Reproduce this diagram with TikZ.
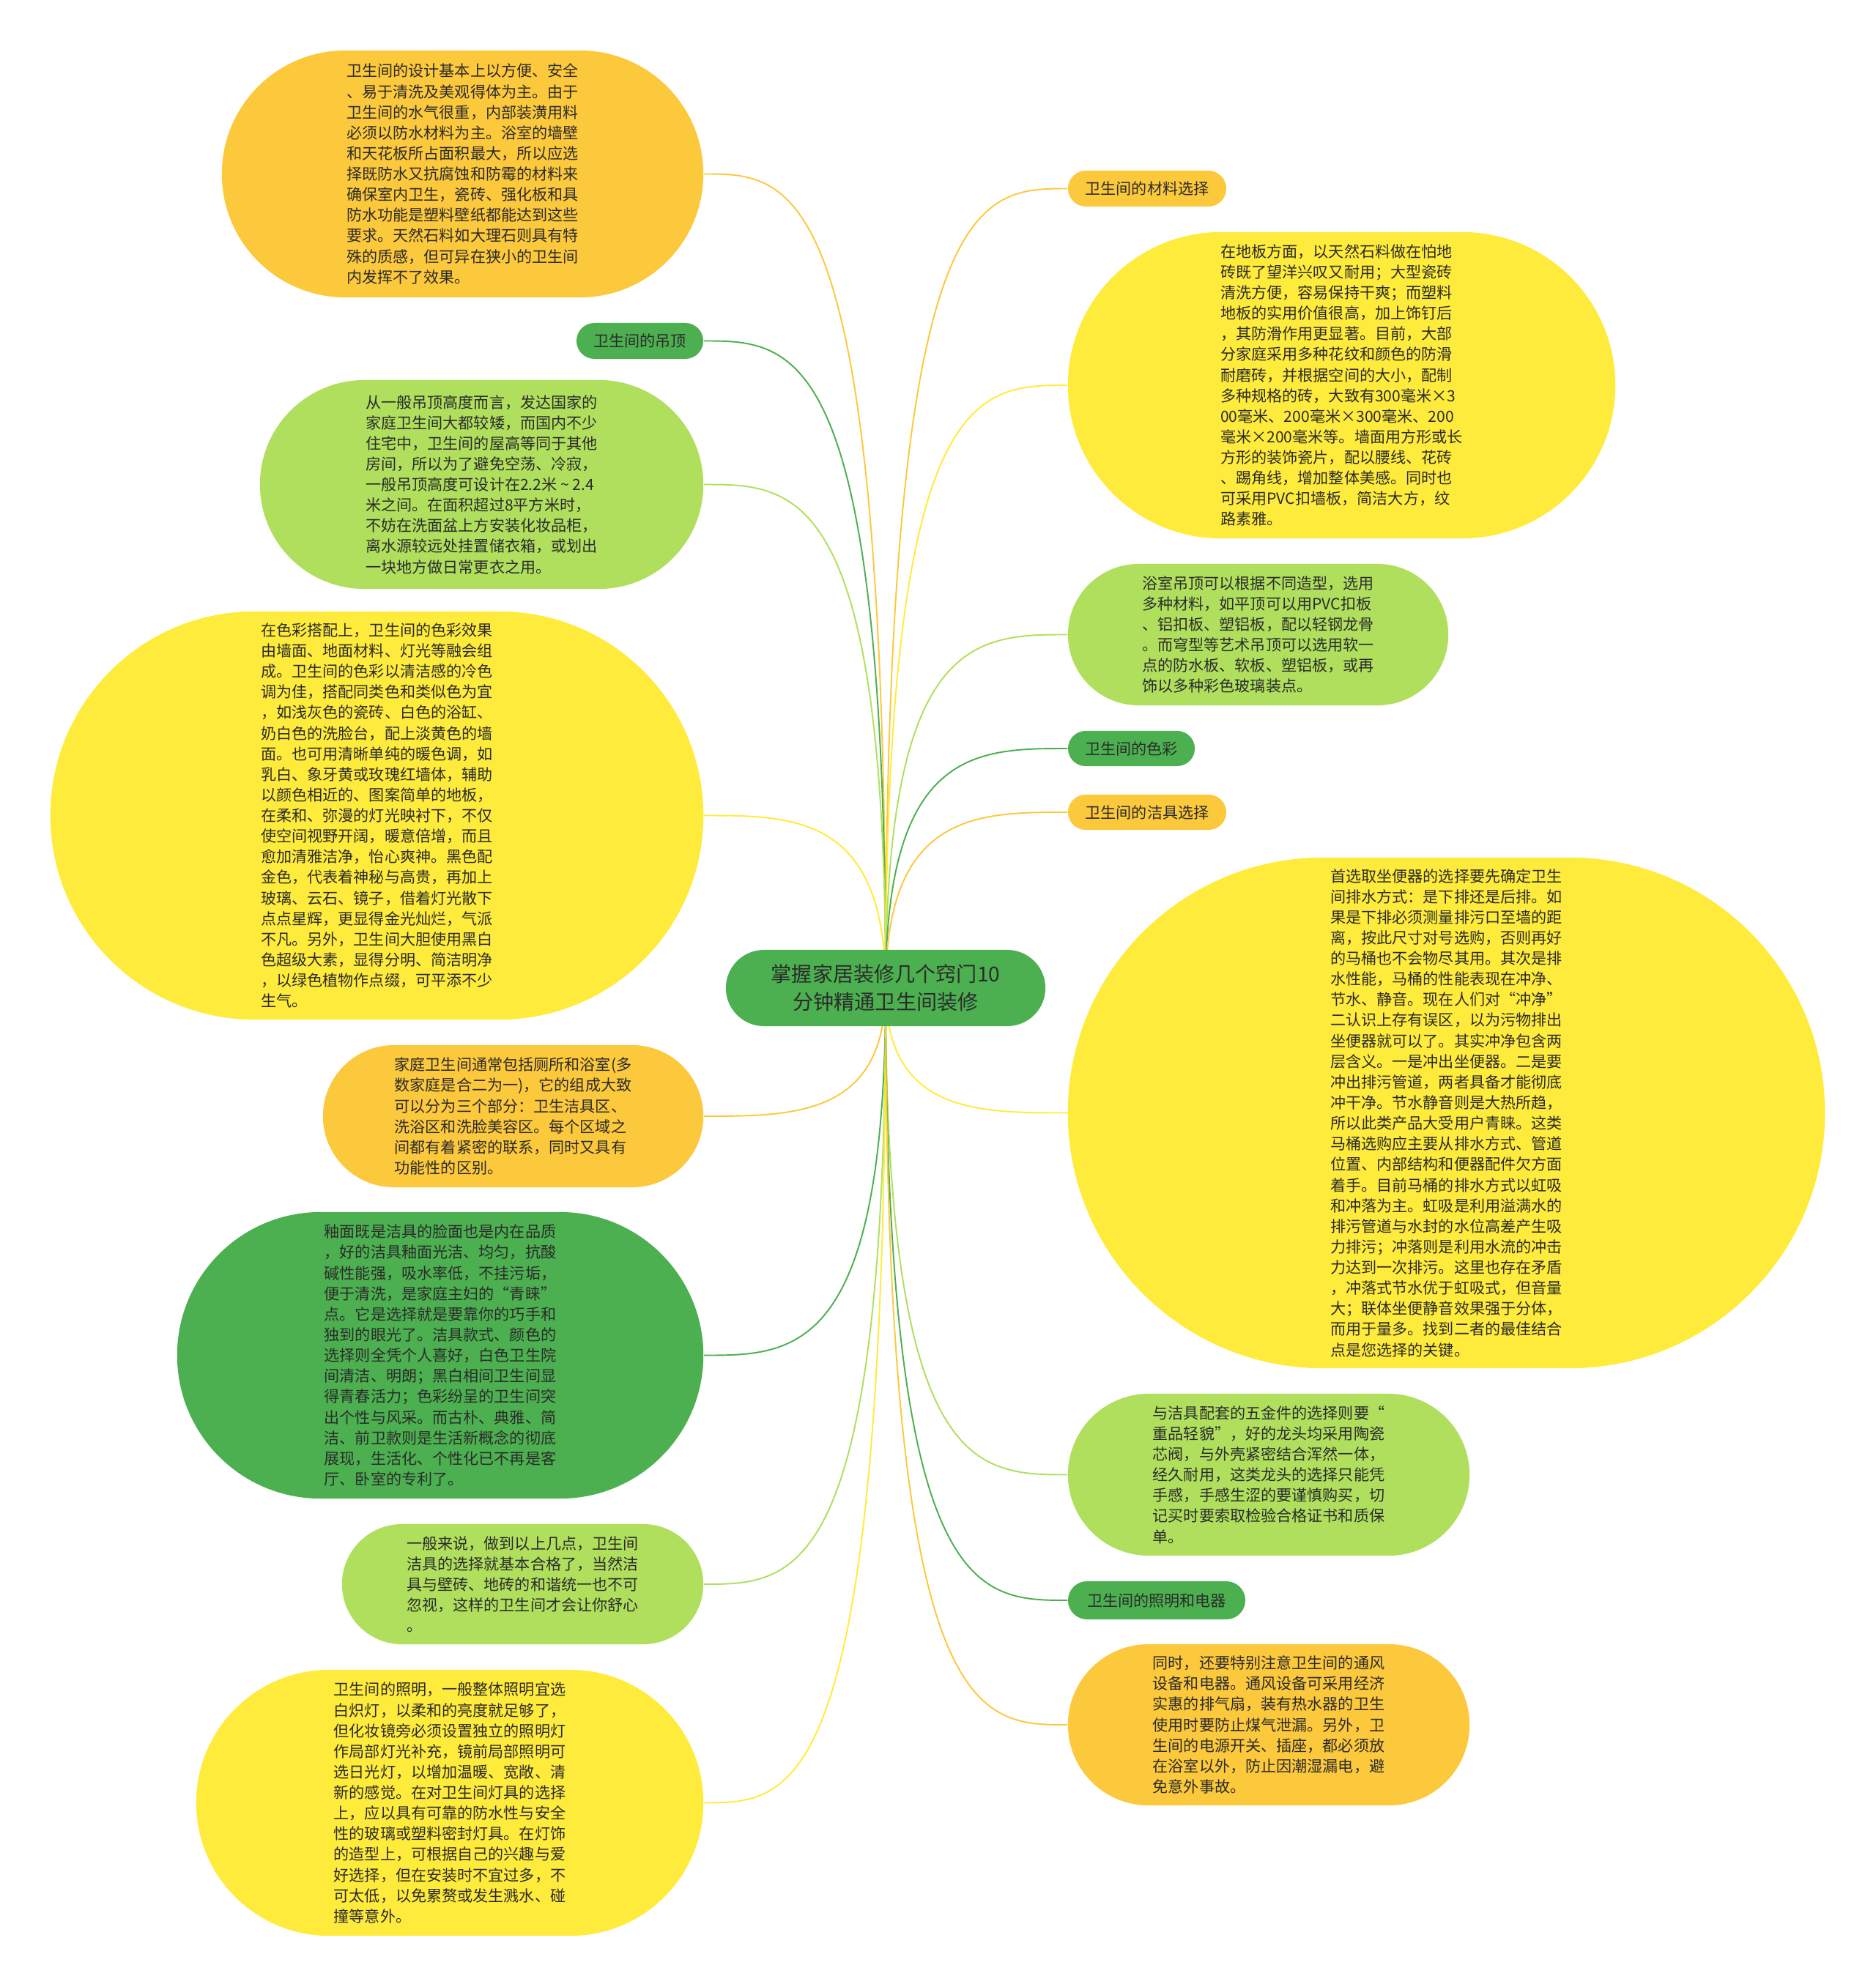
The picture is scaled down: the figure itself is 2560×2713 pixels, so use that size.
\documentclass[tikz,border=0pt]{standalone}
\usepackage{fontspec}
\newfontfamily\cjk{Noto Sans CJK SC}
\usetikzlibrary{calc}
\definecolor{mmorange}{HTML}{FCC83C}
\definecolor{mmyellow}{HTML}{FFEB3B}
\definecolor{mmlime}{HTML}{B0DF5E}
\definecolor{mmgreen}{HTML}{4CAF50}
\definecolor{ink}{HTML}{2B2B2B}
\pgfdeclarelayer{background}
\pgfsetlayers{background,main}

\begin{document}
\begin{tikzpicture}[
    x=0.01cm, y=-0.01cm,
    blob/.style={inner sep=0pt, align=left, text=ink,
                 font=\cjk\fontsize{6pt}{8pt}\selectfont},
    boxsize/.style 2 args={minimum width=#1cm, minimum height=#2cm,
                 rounded corners=#2*0.5cm},
    link/.style={line width=0.55pt}
  ]
  \useasboundingbox (0,0) rectangle (2560,2713);

  % centre topic
  \node[blob, boxsize={4.36}{1.04}, fill=mmgreen, align=center,
        font=\cjk\fontsize{8pt}{10.8pt}\selectfont] (hub) at (1209,1349)
    {掌握家居装修几个窍门10\\分钟精通卫生间装修};

  % left column
  \node[blob, boxsize={6.57}{3.37}, fill=mmorange] (wall) at (631.5,237.5)
    {卫生间的设计基本上以方便、安全\\
     、易于清洗及美观得体为主。由于\\
     卫生间的水气很重，内部装潢用料\\
     必须以防水材料为主。浴室的墙壁\\
     和天花板所占面积最大，所以应选\\
     择既防水又抗腐蚀和防霉的材料来\\
     确保室内卫生，瓷砖、强化板和具\\
     防水功能是塑料壁纸都能达到这些\\
     要求。天然石料如大理石则具有特\\
     殊的质感，但可异在狭小的卫生间\\
     内发挥不了效果。};
  \node[blob, boxsize={1.73}{0.49}, fill=mmgreen] (ceil) at (873.5,465.5)
    {卫生间的吊顶};
  \node[blob, boxsize={6.05}{2.85}, fill=mmlime] (height) at (657.5,661.5)
    {从一般吊顶高度而言，发达国家的\\
     家庭卫生间大都较矮，而国内不少\\
     住宅中，卫生间的屋高等同于其他\\
     房间，所以为了避免空荡、冷寂，\\
     一般吊顶高度可设计在2.2米 \textasciitilde{} 2.4\\
     米之间。在面积超过8平方米时，\\
     不妨在洗面盆上方安装化妆品柜，\\
     离水源较远处挂置储衣箱，或划出\\
     一块地方做日常更衣之用。};
  \node[blob, boxsize={8.91}{5.57}, fill=mmyellow] (tone) at (514.5,1113.5)
    {在色彩搭配上，卫生间的色彩效果\\
     由墙面、地面材料、灯光等融会组\\
     成。卫生间的色彩以清洁感的冷色\\
     调为佳，搭配同类色和类似色为宜\\
     ，如浅灰色的瓷砖、白色的浴缸、\\
     奶白色的洗脸台，配上淡黄色的墙\\
     面。也可用清晰单纯的暖色调，如\\
     乳白、象牙黄或玫瑰红墙体，辅助\\
     以颜色相近的、图案简单的地板，\\
     在柔和、弥漫的灯光映衬下，不仅\\
     使空间视野开阔，暖意倍增，而且\\
     愈加清雅洁净，怡心爽神。黑色配\\
     金色，代表着神秘与高贵，再加上\\
     玻璃、云石、镜子，借着灯光散下\\
     点点星辉，更显得金光灿烂，气派\\
     不凡。另外，卫生间大胆使用黑白\\
     色超级大素，显得分明、简洁明净\\
     ，以绿色植物作点缀，可平添不少\\
     生气。};
  \node[blob, boxsize={5.19}{1.94}, fill=mmorange] (zones) at (700.5,1524)
    {家庭卫生间通常包括厕所和浴室(多\\
     数家庭是合二为一)，它的组成大致\\
     可以分为三个部分：卫生洁具区、\\
     洗浴区和洗脸美容区。每个区域之\\
     间都有着紧密的联系，同时又具有\\
     功能性的区别。};
  \node[blob, boxsize={7.18}{3.91}, fill=mmgreen] (glaze) at (601,1850.5)
    {釉面既是洁具的脸面也是内在品质\\
     ，好的洁具釉面光洁、均匀，抗酸\\
     碱性能强，吸水率低，不挂污垢，\\
     便于清洗，是家庭主妇的“青睐”\\
     点。它是选择就是要靠你的巧手和\\
     独到的眼光了。洁具款式、颜色的\\
     选择则全凭个人喜好，白色卫生院\\
     间清洁、明朗；黑白相间卫生间显\\
     得青春活力；色彩纷呈的卫生间突\\
     出个性与风采。而古朴、典雅、简\\
     洁、前卫款则是生活新概念的彻底\\
     展现，生活化、个性化已不再是客\\
     厅、卧室的专利了。};
  \node[blob, boxsize={4.93}{1.64}, fill=mmlime] (match) at (713.5,2163)
    {一般来说，做到以上几点，卫生间\\
     洁具的选择就基本合格了，当然洁\\
     具与壁砖、地砖的和谐统一也不可\\
     忽视，这样的卫生间才会让你舒心\\
     。};
  \node[blob, boxsize={6.92}{3.63}, fill=mmyellow] (lamp) at (614,2461.5)
    {卫生间的照明，一般整体照明宜选\\
     白炽灯，以柔和的亮度就足够了，\\
     但化妆镜旁必须设置独立的照明灯\\
     作局部灯光补充，镜前局部照明可\\
     选日光灯，以增加温暖、宽敞、清\\
     新的感觉。在对卫生间灯具的选择\\
     上，应以具有可靠的防水性与安全\\
     性的玻璃或塑料密封灯具。在灯饰\\
     的造型上，可根据自己的兴趣与爱\\
     好选择，但在安装时不宜过多，不\\
     可太低，以免累赘或发生溅水、碰\\
     撞等意外。};

  % right column
  \node[blob, boxsize={2.16}{0.49}, fill=mmorange] (matl) at (1566,257.5)
    {卫生间的材料选择};
  \node[blob, boxsize={7.47}{4.18}, fill=mmyellow] (floor) at (1831.5,526)
    {在地板方面，以天然石料做在怕地\\
     砖既了望洋兴叹又耐用；大型瓷砖\\
     清洗方便，容易保持干爽；而塑料\\
     地板的实用价值很高，加上饰钉后\\
     ，其防滑作用更显著。目前，大部\\
     分家庭采用多种花纹和颜色的防滑\\
     耐磨砖，并根据空间的大小，配制\\
     多种规格的砖，大致有300毫米×3\\
     00毫米、200毫米×300毫米、200\\
     毫米×200毫米等。墙面用方形或长\\
     方形的装饰瓷片，配以腰线、花砖\\
     、踢角线，增加整体美感。同时也\\
     可采用PVC扣墙板，简洁大方，纹\\
     路素雅。};
  \node[blob, boxsize={5.19}{1.93}, fill=mmlime] (panel) at (1717.5,866.5)
    {浴室吊顶可以根据不同造型，选用\\
     多种材料，如平顶可以用PVC扣板\\
     、铝扣板、塑铝板，配以轻钢龙骨\\
     。而穹型等艺术吊顶可以选用软一\\
     点的防水板、软板、塑铝板，或再\\
     饰以多种彩色玻璃装点。};
  \node[blob, boxsize={1.73}{0.48}, fill=mmgreen] (colour) at (1544.5,1022)
    {卫生间的色彩};
  \node[blob, boxsize={2.16}{0.48}, fill=mmorange] (ware) at (1566,1109)
    {卫生间的洁具选择};
  \node[blob, boxsize={10.33}{6.97}, fill=mmyellow] (toilet) at (1974.5,1519.5)
    {首选取坐便器的选择要先确定卫生\\
     间排水方式：是下排还是后排。如\\
     果是下排必须测量排污口至墙的距\\
     离，按此尺寸对号选购，否则再好\\
     的马桶也不会物尽其用。其次是排\\
     水性能，马桶的性能表现在冲净、\\
     节水、静音。现在人们对“冲净”\\
     二认识上存有误区，以为污物排出\\
     坐便器就可以了。其实冲净包含两\\
     层含义。一是冲出坐便器。二是要\\
     冲出排污管道，两者具备才能彻底\\
     冲干净。节水静音则是大热所趋，\\
     所以此类产品大受用户青睐。这类\\
     马桶选购应主要从排水方式、管道\\
     位置、内部结构和便器配件欠方面\\
     着手。目前马桶的排水方式以虹吸\\
     和冲落为主。虹吸是利用溢满水的\\
     排污管道与水封的水位高差产生吸\\
     力排污；冲落则是利用水流的冲击\\
     力达到一次排污。这里也存在矛盾\\
     ，冲落式节水优于虹吸式，但音量\\
     大；联体坐便静音效果强于分体，\\
     而用于量多。找到二者的最佳结合\\
     点是您选择的关键。};
  \node[blob, boxsize={5.48}{2.21}, fill=mmlime] (tap) at (1732,2013.5)
    {与洁具配套的五金件的选择则要“\\
     重品轻貌”，好的龙头均采用陶瓷\\
     芯阀，与外壳紧密结合浑然一体，\\
     经久耐用，这类龙头的选择只能凭\\
     手感，手感生涩的要谨慎购买，切\\
     记买时要索取检验合格证书和质保\\
     单。};
  \node[blob, boxsize={2.42}{0.52}, fill=mmgreen] (light) at (1579,2185)
    {卫生间的照明和电器};
  \node[blob, boxsize={5.48}{2.20}, fill=mmorange] (vent) at (1732,2355)
    {同时，还要特别注意卫生间的通风\\
     设备和电器。通风设备可采用经济\\
     实惠的排气扇，装有热水器的卫生\\
     使用时要防止煤气泄漏。另外，卫\\
     生间的电源开关、插座，都必须放\\
     在浴室以外，防止因潮湿漏电，避\\
     免意外事故。};

  % branches from the centre
  \begin{pgfonlayer}{background}
    \foreach \n/\a/\c in {wall/east/mmorange, ceil/east/mmgreen,
        height/east/mmlime, tone/east/mmyellow, zones/east/mmorange,
        glaze/east/mmgreen, match/east/mmlime, lamp/east/mmyellow,
        matl/west/mmorange, floor/west/mmyellow, panel/west/mmlime,
        colour/west/mmgreen, ware/west/mmorange, toilet/west/mmyellow,
        tap/west/mmlime, light/west/mmgreen, vent/west/mmorange}
      \draw[link, \c] (hub.center) .. controls (hub.center |- \n.\a)
        and ($(hub.center |- \n.\a)!0.5!(\n.\a)$) .. (\n.\a);
  \end{pgfonlayer}
\end{tikzpicture}
\end{document}
